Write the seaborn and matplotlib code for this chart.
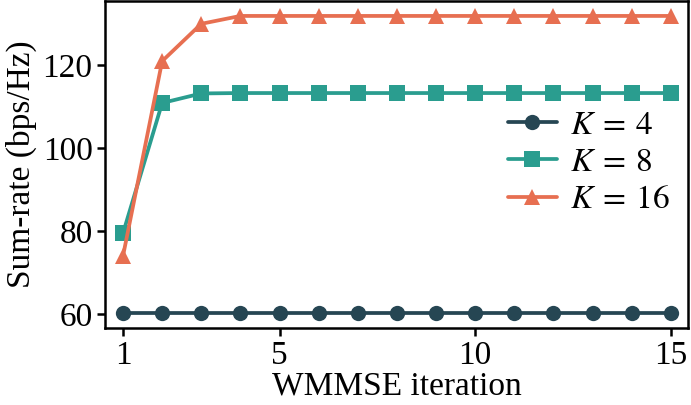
import numpy as np
import pandas as pd
import matplotlib
matplotlib.use("Agg")
import matplotlib.pyplot as plt
import seaborn as sns

iterations = list(range(1, 16))
k4 = [60.3] * 15
k8 = [79.5, 110.9, 113.2] + [113.3] * 12
k16 = [74.0, 121.0, 130.0] + [131.9] * 12
labels = [r"$K\:=\:4$", r"$K\:=\:8$", r"$K\:=\:16$"]
colors = ["#264653", "#2a9d8f", "#e76f51"]
markers = ["o", "s", "^"]

df = pd.DataFrame({
    "iter": iterations * 3,
    "rate": k4 + k8 + k16,
    "K": [labels[0]] * 15 + [labels[1]] * 15 + [labels[2]] * 15,
})

sns.set_theme(style="ticks", rc={
    "text.color": "black", "axes.labelcolor": "black",
    "xtick.color": "black", "ytick.color": "black",
    "axes.edgecolor": "black",
})
plt.rcParams["font.family"] = ["Liberation Serif", "DejaVu Serif"]
plt.rcParams["mathtext.fontset"] = "stix"

fig, ax = plt.subplots(figsize=(6.91, 4.05), dpi=100)
sns.lineplot(data=df, x="iter", y="rate", hue="K", style="K",
             palette=dict(zip(labels, colors)),
             markers=dict(zip(labels, markers)), dashes=False,
             linewidth=2.7, markersize=11, markeredgewidth=0, ax=ax)

ax.set_xlim(0.54, 15.44)
ax.set_ylim(56.6, 135.5)
ax.set_xticks([1, 5, 10, 15])
ax.set_yticks([60, 80, 100, 120])
ax.set_xlabel("WMMSE iteration", fontsize=24, labelpad=0)
ax.set_ylabel("Sum-rate (bps/Hz)", fontsize=24, labelpad=4)
ax.tick_params(labelsize=24, width=1.8, length=6, pad=3)
for s in ax.spines.values():
    s.set_linewidth(1.8)
leg = ax.legend(loc="center right", bbox_to_anchor=(1.0, 0.505), frameon=False,
                fontsize=24, handlelength=1.45, handletextpad=0.4,
                borderaxespad=0.15, labelspacing=0.2)
fig.subplots_adjust(left=0.152, right=0.9957, top=0.9975, bottom=0.19)
fig.savefig("out.png", dpi=100)
